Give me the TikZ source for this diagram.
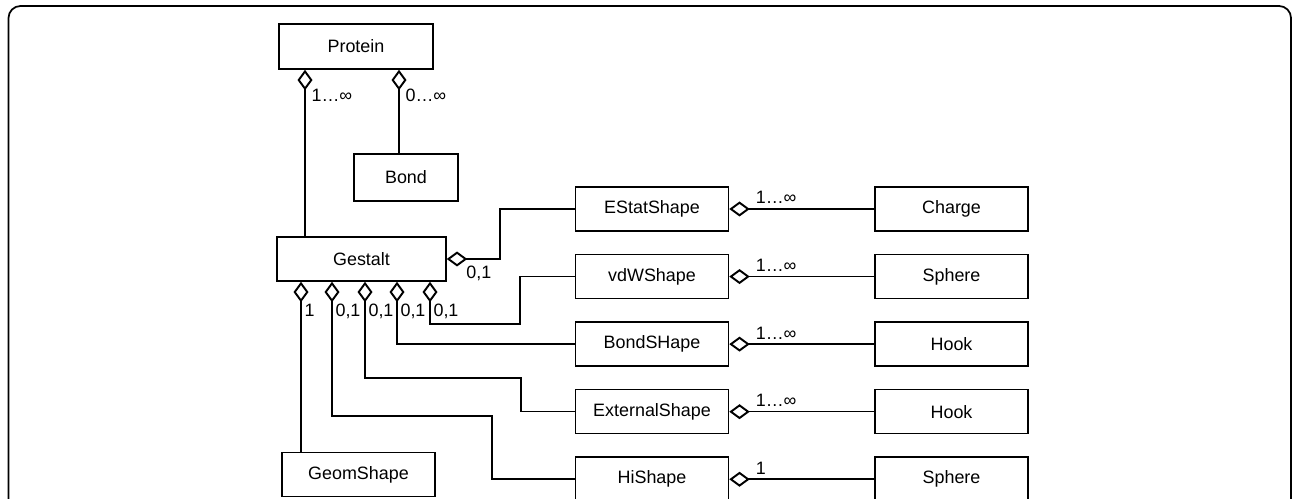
\documentclass[tikz,border=0pt]{standalone}
\usepackage{fontspec}
\setmainfont{Liberation Sans}
\usetikzlibrary{arrows.meta,positioning,calc}

\begin{document}
\begin{tikzpicture}[x=0.02cm, y=-0.02cm, line width=0.9pt, font=\fontsize{10.2}{12}\selectfont,
		cls/.style = {shape=rectangle, draw, minimum width=3.06cm, minimum height=0.88cm, inner sep=0pt},
		agg/.style = {{Diamond[open, length=0.41cm, width=0.3cm, line width=1.1pt]}-}]
			\tikzstyle{mult}=[inner sep=1pt, anchor=base west]
			\useasboundingbox (0,0) rectangle (1292,499);
			\draw[line width=1pt, rounded corners=0.24cm] (8.5,6) rectangle (1291,540);

			\node[cls, minimum width=3.08cm, minimum height=0.9cm] (Protein) at (356,46.5) {Protein};
			\node[cls, minimum width=2.08cm, minimum height=0.94cm] (Bond) at (406,177.5) {Bond};
			\node[cls, minimum width=3.38cm] (Gestalt) at (361.5,259) {Gestalt};
			\node[cls] (GeomShape) at (358.5,474.5) {GeomShape};

			\node[cls] (EStatShape) at (652,209) {EStatShape};
			\node[cls, below=0.44cm of EStatShape] (vdWShape) {vdWShape};
			\node[cls, below=0.44cm of vdWShape] (BondSHape) {BondSHape};
			\node[cls, below=0.44cm of BondSHape] (ExternalShape) {ExternalShape};
			\node[cls, below=0.44cm of ExternalShape] (HiShape) {HiShape};

			\node[cls, right=2.9cm of EStatShape] (Charge) {Charge};
			\node[cls, right=2.9cm of vdWShape] (SphereA) {Sphere};
			\node[cls, right=2.9cm of BondSHape] (HookA) {Hook};
			\node[cls, right=2.9cm of ExternalShape] (HookB) {Hook};
			\node[cls, right=2.9cm of HiShape] (SphereB) {Sphere};

			% ports on Protein and Gestalt
			\coordinate (p1) at ($(Protein.south)+(-51,0)$);
			\coordinate (p2) at ($(Protein.south)+(43,0)$);
			\coordinate (g1) at ($(Gestalt.south)+(-60.5,0)$);
			\coordinate (g2) at ($(Gestalt.south)+(-29.5,0)$);
			\coordinate (g3) at ($(Gestalt.south)+(3.5,0)$);
			\coordinate (g4) at ($(Gestalt.south)+(35.5,0)$);
			\coordinate (g5) at ($(Gestalt.south)+(68.5,0)$);

			\draw[agg] (p1) -- (p1 |- Gestalt.north);
			\draw[agg] (p2) -- (p2 |- Bond.north);
			\node[mult] (mp1) at ($(p1)+(4,32)$) {1…∞};
			\node[mult] (mp2) at ($(p2)+(4,32)$) {0…∞};

			\draw[agg] (Gestalt.east) -- ++(53,0) |- (EStatShape.west);
			\draw[agg] (g5) -- ++(0,42) -- ++(90,0) |- (vdWShape.west);
			\draw[agg] (g4) |- (BondSHape.west);
			\draw[agg] (g3) -- ++(0,96) -- ++(156,0) |- (ExternalShape.west);
			\draw[agg] (g2) -- ++(0,134) -- ++(160,0) |- (HiShape.west);
			\draw[agg] (g1) -- (g1 |- GeomShape.north);
			\node[mult] (mge) at ($(Gestalt.east)+(17,20)$) {0,1};
			\node[mult] (mg1) at ($(g1)+(1,35)$) {1};
			\node[mult] (mg2) at ($(g2)+(1,35)$) {0,1};
			\node[mult] (mg3) at ($(g3)+(1,35)$) {0,1};
			\node[mult] (mg4) at ($(g4)+(1,35)$) {0,1};
			\node[mult] (mg5) at ($(g5)+(1,35)$) {0,1};

			\draw[agg] (EStatShape.east) -- (Charge.west);
			\draw[agg] (vdWShape.east) -- (SphereA.west);
			\draw[agg] (BondSHape.east) -- (HookA.west);
			\draw[agg] (ExternalShape.east) -- (HookB.west);
			\draw[agg] (HiShape.east) -- (SphereB.west);
			\node[mult] (m1) at ($(EStatShape.east)+(24,-5)$) {1…∞};
			\node[mult] (m2) at ($(vdWShape.east)+(24,-5)$) {1…∞};
			\node[mult] (m3) at ($(BondSHape.east)+(24,-5)$) {1…∞};
			\node[mult] (m4) at ($(ExternalShape.east)+(24,-5)$) {1…∞};
			\node[mult] (m5) at ($(HiShape.east)+(24,-5)$) {1};
		\end{tikzpicture}
\end{document}
